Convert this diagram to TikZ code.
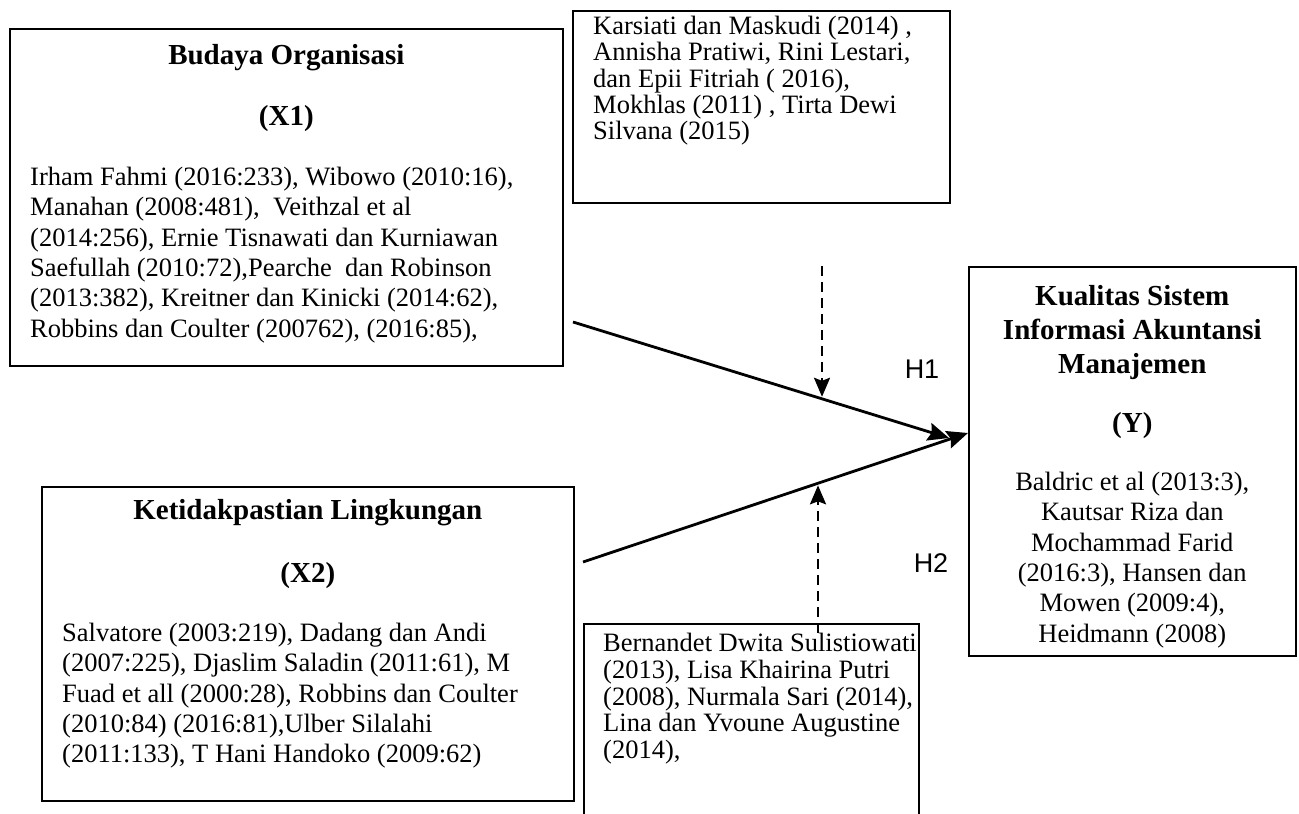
\documentclass[tikz,border=0pt]{standalone}
\usepackage{fontspec}
\setmainfont{Liberation Serif}
\newfontfamily\hsans{Liberation Sans}
\usetikzlibrary{
    arrows.meta,
    positioning
}
\newcommand\txtfont{\fontsize{26.5}{30.3}\selectfont}
\newcommand\ttlfont{\bfseries\fontsize{29}{34}\selectfont}
\newcommand\hypfont{\hsans\fontsize{27}{30}\selectfont}
\tikzset{
  box/.style  = {draw, line width=1.6pt, anchor=north west, inner sep=0pt},
  ttl/.style  = {font=\ttlfont, align=center, inner sep=0pt, anchor=north},
  txt/.style  = {font=\txtfont, align=left, inner sep=0pt, anchor=north west},
  hyp/.style  = {font=\hypfont, inner sep=0pt},
  arr/.style  = {-{Stealth[length=21pt,width=18pt,inset=3pt]}, line width=2.8pt},
  darr/.style = {-{Stealth[length=19pt,width=16pt,inset=3pt]}, line width=2.5pt,
                 dash pattern=on 10pt off 6pt, shorten >=2pt}
}

\begin{document}
\begin{tikzpicture}[x=1pt, y=-1pt]
\path[use as bounding box, clip] (0,0) rectangle (1299,814);

% variabel
\node[box, minimum width=553pt, minimum height=337pt] (bo)  at (9,28)   {};
\node[box, minimum width=532pt, minimum height=314pt] (lk)  at (41,486) {};
\node[box, minimum width=327pt, minimum height=389pt] (sia) at (968,266) {};
% penelitian terdahulu
\node[box, minimum width=377pt, minimum height=192pt] (pt1) at (572,10)  {};
\node[box, minimum width=335pt, minimum height=220pt] (pt2) at (583,623) {};

\node[ttl, below=16pt of bo.north] (boT) {Budaya Organisasi};
\node[ttl, below=77pt of bo.north] (boX) {(X1)};
\node[txt, below right=139pt and 21pt of bo.north west] (boR)
    {Irham Fahmi (2016:233), Wibowo (2010:16),\\
     Manahan (2008:481),\ \ Veithzal et al\\
     (2014:256), Ernie Tisnawati dan Kurniawan\\
     Saefullah (2010:72),Pearche\ \ dan Robinson\\
     (2013:382), Kreitner dan Kinicki (2014:62),\\
     Robbins dan Coulter (200762), (2016:85),};

\node[ttl, below=13pt of lk.north] (lkT) {Ketidakpastian Lingkungan};
\node[ttl, below=76pt of lk.north] (lkX) {(X2)};
\node[txt, below right=137pt and 21pt of lk.north west] (lkR)
    {Salvatore (2003:219), Dadang dan Andi\\
     (2007:225), Djaslim Saladin (2011:61), M\\
     Fuad et all (2000:28), Robbins dan Coulter\\
     (2010:84) (2016:81),Ulber Silalahi\\
     (2011:133), T Hani Handoko (2009:62)};

\node[ttl, below=19pt of sia.north] (siaT)
    {Kualitas Sistem\\ Informasi Akuntansi\\ Manajemen};
\node[ttl, below=146pt of sia.north] (siaY) {(Y)};
\node[txt, align=center, anchor=north, below=206pt of sia.north] (siaR)
    {Baldric et al (2013:3),\\ Kautsar Riza dan\\ Mochammad Farid\\
     (2016:3), Hansen dan\\ Mowen (2009:4),\\ Heidmann (2008)};

\node[txt, font={\fontsize{26.5}{26.3}\selectfont},
      below right=6pt and 21pt of pt1.north west] (pt1R)
    {Karsiati dan Maskudi (2014) ,\\
     Annisha Pratiwi, Rini Lestari,\\
     dan Epii Fitriah ( 2016),\\
     Mokhlas (2011) , Tirta Dewi\\
     Silvana (2015)};
\node[txt, font={\fontsize{26.5}{26.8}\selectfont},
      below right=10pt and 20pt of pt2.north west] (pt2R)
    {Bernandet Dwita Sulistiowati\\
     (2013), Lisa Khairina Putri\\
     (2008), Nurmala Sari (2014),\\
     Lina dan Yvoune Augustine\\
     (2014),};

\node[hyp] (h1) at (922,369) {H1};
\node[hyp] (h2) at (931,563) {H2};

% hubungan
\coordinate (a1) at (573,322);
\coordinate (e1) at (949,438);
\coordinate (a2) at (583,562);
\coordinate (e2) at (968,433);
\draw[arr] (a1) -- (e1);
\draw[arr] (a2) -- (e2);

% moderasi
\path (a1) -- (e1) coordinate[pos=0.662] (m1);
\path (a2) -- (e2) coordinate[pos=0.610] (m2);
\coordinate (d1) at (822,266);
\coordinate (d2) at (818,633);
\draw[darr] (d1) -- (d1 |- m1);
\draw[darr] (d2) -- (d2 |- m2);
\end{tikzpicture}
\end{document}
